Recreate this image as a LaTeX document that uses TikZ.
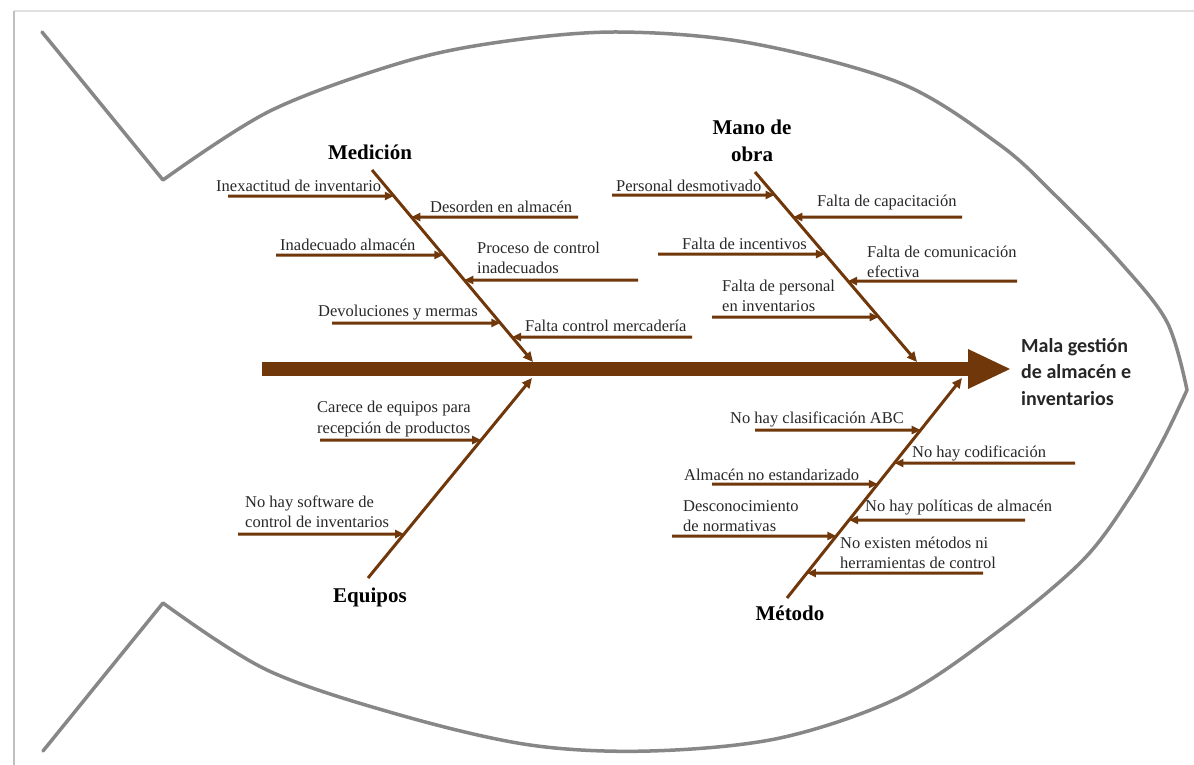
\documentclass[tikz,border=0pt]{standalone}
\usepackage{fontspec}
\setmainfont{Liberation Serif}
\newfontfamily\causefont{Liberation Serif}
\newfontfamily\effectfont{Carlito}
\usetikzlibrary{arrows.meta}

\definecolor{bone}{RGB}{112,56,10}
\definecolor{outline}{RGB}{135,135,135}
\definecolor{labeltext}{RGB}{40,40,40}

\begin{document}
\begin{tikzpicture}[x=1pt,y=-1pt,
  cause/.style={font=\causefont\fontsize{16.5}{20.5}\selectfont, text=labeltext, inner sep=0pt, anchor=west, align=left},
  category/.style={font=\causefont\bfseries\fontsize{21}{27}\selectfont, inner sep=0pt, align=center},
  effect/.style={font=\effectfont\bfseries\fontsize{20}{26.5}\selectfont, text=black!85, inner sep=0pt, anchor=west, align=left},
  bonearrow/.style={draw=bone, line width=3pt, -{Triangle[length=10pt,width=9pt]}},
  subarrow/.style={draw=bone, line width=3pt, -{Triangle[length=9pt,width=8pt]}},
  spinearrow/.style={draw=bone, line width=14pt, -{Triangle[length=42pt,width=40pt,line width=0pt]}},
  fishline/.style={draw=outline, line width=3.5pt, line join=round, line cap=round},
  framing/.style={line width=2pt},
]
\useasboundingbox (0,0) rectangle (1194,765);
\fill[white] (0,0) rectangle (1194,765);

% page frame
\draw[framing, draw=black!12] (14,11) -- (1194,11);
\draw[framing, draw=black!25] (14,11) -- (14,765);

% fish outline: tail and body
\draw[fishline] (42,32) -- (163,180) -- plot[smooth, tension=0.55] coordinates
  {(163,180) (270,111) (400,63) (500,42) (617,32) (750,43) (900,83) (1000,145) (1057,197) (1120,262) (1167,322) (1187,390)};
\draw[fishline] (43,751) -- (163,603) -- plot[smooth, tension=0.55] coordinates
  {(163,603) (267,670) (400,715) (530,745) (650,751) (780,738) (900,697) (1000,630) (1083,560) (1130,497) (1163,440) (1187,390)};

% spine and effect
\coordinate (tail) at (262,369);
\coordinate (head) at (1010,369);
\draw[spinearrow] (tail) -- (head);
\node[effect] (effect) at (1021,372) {Mala gestión\\de almacén e\\inventarios};

% main bones
\coordinate (mtop) at (372,170);  \coordinate (mbot) at (533,362);
\coordinate (otop) at (755,172);  \coordinate (obot) at (917,362);
\coordinate (ebot) at (368,578);  \coordinate (etop) at (532,378);
\coordinate (tbot) at (787,598);  \coordinate (ttop) at (962,378);
\draw[bonearrow] (mtop) -- (mbot);
\draw[bonearrow] (otop) -- (obot);
\draw[bonearrow] (ebot) -- (etop);
\draw[bonearrow] (tbot) -- (ttop);

% category titles
\node[category] (medicion) at (370,152) {Medición};
\node[category] (mano) at (752,141) {Mano de\\obra};
\node[category] (equipos) at (370,597) {Equipos};
\node[category] (metodo) at (790,613) {Método};

% Medición causes
\coordinate (m1s) at (228,196); \coordinate (m1t) at (intersection of mtop--mbot and 0,196--1,196);
\coordinate (m2s) at (578,217); \coordinate (m2t) at (intersection of mtop--mbot and 0,217--1,217);
\coordinate (m3s) at (276,255); \coordinate (m3t) at (intersection of mtop--mbot and 0,255--1,255);
\coordinate (m4s) at (638,280); \coordinate (m4t) at (intersection of mtop--mbot and 0,280--1,280);
\coordinate (m5s) at (332,323); \coordinate (m5t) at (intersection of mtop--mbot and 0,323--1,323);
\coordinate (m6s) at (692,337); \coordinate (m6t) at (intersection of mtop--mbot and 0,337--1,337);
\foreach \c in {m1,m2,m3,m4,m5,m6} \draw[subarrow] (\c s) -- (\c t);
\node[cause] (m1) at (216,186) {Inexactitud de inventario};
\node[cause] (m2) at (430,207) {Desorden en almacén};
\node[cause] (m3) at (280,245) {Inadecuado almacén};
\node[cause] (m4) at (477,258) {Proceso de control\\inadecuados};
\node[cause] (m5) at (318,313) {Devoluciones y mermas};
\node[cause] (m6) at (525,326) {Falta control mercadería};

% Mano de obra causes
\coordinate (o1s) at (612,195); \coordinate (o1t) at (intersection of otop--obot and 0,195--1,195);
\coordinate (o2s) at (962,217); \coordinate (o2t) at (intersection of otop--obot and 0,217--1,217);
\coordinate (o3s) at (658,254); \coordinate (o3t) at (intersection of otop--obot and 0,254--1,254);
\coordinate (o4s) at (1017,281); \coordinate (o4t) at (intersection of otop--obot and 0,281--1,281);
\coordinate (o5s) at (712,317); \coordinate (o5t) at (intersection of otop--obot and 0,317--1,317);
\foreach \c in {o1,o2,o3,o4,o5} \draw[subarrow] (\c s) -- (\c t);
\node[cause] (o1) at (616,186) {Personal desmotivado};
\node[cause] (o2) at (817,203) {Falta de capacitación};
\node[cause] (o3) at (682,244) {Falta de incentivos};
\node[cause] (o4) at (867,262) {Falta de comunicación\\efectiva};
\node[cause] (o5) at (722,296) {Falta de personal\\en inventarios};

% Equipos causes
\coordinate (e1s) at (320,440); \coordinate (e1t) at (intersection of ebot--etop and 0,440--1,440);
\coordinate (e2s) at (238,534); \coordinate (e2t) at (intersection of ebot--etop and 0,534--1,534);
\foreach \c in {e1,e2} \draw[subarrow] (\c s) -- (\c t);
\node[cause] (e1) at (317,419) {Carece de equipos para\\recepción de productos};
\node[cause] (e2) at (245,512) {No hay software de\\control de inventarios};

% Método causes
\coordinate (t1s) at (755,430); \coordinate (t1t) at (intersection of tbot--ttop and 0,430--1,430);
\coordinate (t2s) at (1075,463); \coordinate (t2t) at (intersection of tbot--ttop and 0,463--1,463);
\coordinate (t3s) at (712,484); \coordinate (t3t) at (intersection of tbot--ttop and 0,484--1,484);
\coordinate (t4s) at (1025,520); \coordinate (t4t) at (intersection of tbot--ttop and 0,520--1,520);
\coordinate (t5s) at (672,536); \coordinate (t5t) at (intersection of tbot--ttop and 0,536--1,536);
\coordinate (t6s) at (983,573); \coordinate (t6t) at (intersection of tbot--ttop and 0,573--1,573);
\foreach \c in {t1,t2,t3,t4,t5,t6} \draw[subarrow] (\c s) -- (\c t);
\node[cause] (t1) at (730,419) {No hay clasificación ABC};
\node[cause] (t2) at (912,453) {No hay codificación};
\node[cause] (t3) at (684,475) {Almacén no estandarizado};
\node[cause] (t4) at (865,508) {No hay políticas de almacén};
\node[cause] (t5) at (683,516) {Desconocimiento\\de normativas};
\node[cause] (t6) at (840,553) {No existen métodos ni\\herramientas de control};
\end{tikzpicture}
\end{document}
